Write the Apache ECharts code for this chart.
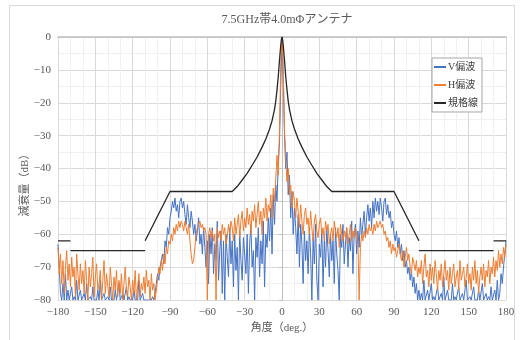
<!DOCTYPE html>
<html><head><meta charset="utf-8">
<script src="https://cdn.jsdelivr.net/npm/echarts@6/dist/echarts.min.js"></script>
<style>html,body{margin:0;padding:0;background:#fff}#c{width:524px;height:340px}</style>
</head><body><div id="c"></div>
<script>
const titleText = '7.5GHz帯4.0mΦアンテナ';
const xTicks = [-180,-150,-120,-90,-60,-30,0,30,60,90,120,150,180];
const startAngle = -180;
const vPol = [
-63,-70,-78,-80,-75,-80,-72,-80,-77,-80,
-80,-76,-80,-79,-80,-74,-80,-80,-77,-80,
-80,-78,-80,-75,-80,-80,-79,-80,-76,-80,
-80,-80,-77,-80,-74,-80,-80,-78,-80,-80,
-79,-80,-76,-80,-80,-80,-77,-80,-80,-75,
-80,-80,-78,-80,-80,-76,-80,-79,-80,-80,
-80,-77,-80,-80,-80,-74,-80,-80,-78,-80,
-80,-80,-80,-80,-80,-80,-79,-80,-78,-75,
-72,-74,-70,-68,-66,-69,-62,-64,-58,-60,
-55,-53,-50,-52,-49,-53,-51,-55,-50,-49,
-52,-50,-54,-57,-51,-55,-58,-53,-56,-60,
-57,-62,-59,-55,-63,-60,-66,-58,-64,-70,
-62,-75,-60,-66,-58,-72,-63,-68,-56,-74,
-65,-59,-78,-62,-80,-60,-67,-73,-58,-69,
-62,-76,-60,-71,-64,-80,-59,-68,-74,-61,
-66,-72,-60,-78,-63,-57,-70,-65,-80,-61,
-67,-58,-73,-62,-69,-56,-76,-60,-64,-55,
-62,-52,-66,-48,-57,-45,-50,-38,-32,-15,
0,
-12,-30,-40,-35,-48,-42,-55,-47,-60,-52,
-58,-66,-54,-70,-57,-63,-75,-59,-68,-62,
-72,-58,-66,-80,-61,-69,-57,-74,-80,-63,
-67,-59,-76,-62,-70,-58,-65,-73,-60,-68,
-62,-75,-58,-66,-71,-80,-60,-64,-57,-69,
-63,-58,-70,-61,-65,-56,-72,-60,-57,-66,
-59,-64,-55,-61,-57,-53,-60,-55,-51,-56,
-52,-58,-50,-55,-49,-53,-50,-54,-49,-52,
-56,-50,-49,-54,-51,-55,-53,-58,-56,-60,
-62,-59,-64,-61,-66,-63,-68,-65,-70,-68,
-72,-70,-74,-71,-76,-73,-78,-75,-80,-77,
-80,-78,-80,-74,-80,-80,-77,-80,-80,-75,
-80,-79,-80,-80,-76,-80,-80,-78,-80,-73,
-80,-80,-77,-80,-80,-80,-75,-80,-79,-80,
-80,-76,-80,-80,-78,-80,-80,-74,-80,-80,
-79,-80,-80,-76,-80,-80,-80,-77,-80,-80,
-75,-80,-80,-78,-80,-79,-80,-76,-80,-80,
-77,-80,-74,-80,-78,-72,-75,-70,-66,-62
];
const hPol = [
-64,-72,-66,-75,-68,-78,-70,-65,-74,-69,
-76,-67,-73,-70,-79,-66,-72,-77,-69,-75,
-71,-78,-68,-74,-80,-70,-76,-72,-67,-79,
-73,-69,-77,-75,-71,-80,-74,-68,-78,-72,
-76,-79,-70,-75,-80,-73,-77,-71,-79,-74,
-78,-72,-80,-75,-70,-77,-79,-73,-76,-80,
-74,-78,-71,-80,-76,-72,-79,-75,-77,-73,
-78,-71,-76,-74,-80,-72,-77,-75,-80,-80,
-74,-70,-72,-68,-71,-66,-69,-64,-66,-62,
-63,-60,-62,-58,-60,-57,-59,-56,-58,-56,
-57,-59,-56,-58,-60,-57,-62,-66,-69,-68,
-64,-60,-58,-57,-56,-58,-57,-59,-58,-60,
-80,-60,-58,-61,-59,-62,-60,-80,-58,-61,
-59,-62,-57,-60,-58,-63,-61,-57,-60,-56,
-58,-62,-55,-60,-57,-54,-61,-56,-53,-59,
-55,-58,-52,-57,-54,-60,-53,-56,-51,-58,
-54,-50,-57,-53,-60,-52,-55,-49,-56,-51,
-53,-48,-55,-46,-50,-43,-36,-42,-28,-8,
0,
-10,-28,-37,-44,-40,-48,-45,-52,-47,-50,
-55,-49,-53,-58,-51,-56,-60,-54,-52,-57,
-55,-60,-53,-58,-62,-56,-54,-59,-61,-57,
-55,-60,-58,-62,-56,-59,-57,-63,-60,-58,
-62,-56,-59,-61,-58,-64,-57,-60,-62,-59,
-61,-58,-63,-60,-57,-62,-59,-61,-58,-60,
-62,-80,-64,-60,-62,-59,-61,-58,-60,-57,
-59,-58,-60,-57,-59,-56,-58,-57,-56,-58,
-57,-60,-59,-62,-61,-64,-62,-66,-63,-65,
-64,-67,-65,-63,-66,-68,-65,-70,-67,-64,
-68,-66,-70,-72,-67,-69,-71,-68,-73,-70,
-72,-68,-75,-70,-66,-73,-71,-76,-69,-74,
-70,-75,-68,-72,-77,-71,-74,-69,-76,-72,
-68,-74,-71,-77,-70,-75,-72,-69,-76,-73,
-71,-77,-68,-74,-72,-70,-76,-73,-69,-75,
-72,-77,-70,-74,-68,-75,-71,-78,-73,-70,
-74,-69,-76,-71,-73,-68,-75,-70,-72,-67,
-73,-68,-71,-65,-70,-66,-69,-64,-67,-63
];
const specAngles = [-180,-170,-170, -170,-110,-110, -110,-90,-40,-36,-32,-28,-24,-20,-16,-13,-10,-8,-6,-5,-4,-3,-2,-1,-0.5,0,0.5,1,2,3,4,5,6,8,10,13,16,20,24,28,32,36,40,90,110,110, 110,170,170, 170,180];
const specValues = [-62,-62,null, -65,-65,null, -62,-47,-47,-45.5,-43.5,-41.5,-39,-36.5,-33.5,-31,-28,-25.5,-22,-19.5,-16,-12,-7,-2.5,-0.8,0,-0.8,-2.5,-7,-12,-16,-19.5,-22,-25.5,-28,-31,-33.5,-36.5,-39,-41.5,-43.5,-45.5,-47,-47,-62,null, -65,-65,null, -62,-62];

const toPairs = vals => vals.map((v,i)=>[startAngle+i, v]);
const specPairs = specAngles.map((a,i)=>[a, specValues[i]===null ? '-' : specValues[i]]);

const serif = "'Liberation Serif','DejaVu Serif','Noto Sans CJK JP',serif";
const chart = echarts.init(document.getElementById('c'), null, {renderer:'canvas'});
chart.setOption({
  animation:false,
  backgroundColor:'#fff',
  title:{text:titleText,left:282,textAlign:'center',top:9,textStyle:{fontFamily:serif,fontSize:12,fontWeight:'normal',color:'#595959'}},
  graphic:[{type:'rect',shape:{x:9.5,y:5.5,width:505,height:340},style:{fill:'none',stroke:'#D9D9D9',lineWidth:1},silent:true}],
  legend:{
    orient:'vertical',left:432,top:58,
    data:['V偏波','H偏波','規格線'],
    backgroundColor:'#fff',borderColor:'#A6A6A6',borderWidth:1,padding:[4,4,4,2],
    itemGap:8,itemWidth:12,itemHeight:2,icon:'rect',
    textStyle:{fontFamily:serif,fontSize:10,color:'#404040',padding:[0,0,0,-3]}
  },
  grid:{left:58,right:18,top:37,bottom:40,outerBoundsMode:'none',containLabel:false},
  xAxis:{
    type:'value',min:-180,max:180,interval:30,
    name:'角度（deg.）',nameLocation:'middle',nameGap:22,
    nameTextStyle:{fontFamily:serif,fontSize:11,color:'#595959'},
    axisLine:{show:true,lineStyle:{color:'#BFBFBF',width:1.5}},
    axisTick:{show:false},
    axisLabel:{fontFamily:serif,fontSize:11,color:'#595959',margin:7,formatter:v=>xTicks.includes(v)?String(v).replace('-','−'):''},
    splitLine:{show:true,lineStyle:{color:'#D9D9D9',width:1}},
    minorTick:{show:false,splitNumber:3},
    minorSplitLine:{show:true,lineStyle:{color:'#F0F0F0',width:1}}
  },
  yAxis:{
    type:'value',min:-80,max:0,interval:10,
    name:'減衰量（dB）',nameLocation:'middle',nameGap:27,nameMoveOverlap:false,
    nameTextStyle:{fontFamily:serif,fontSize:11,color:'#595959',padding:[0,28,0,0]},
    axisLine:{show:true,lineStyle:{color:'#BFBFBF',width:1}},
    axisTick:{show:true,length:3,lineStyle:{color:'#BFBFBF'}},
    axisLabel:{fontFamily:serif,fontSize:11,color:'#595959',margin:7,formatter:v=>String(v).replace('-','−')},
    splitLine:{show:true,lineStyle:{color:'#D9D9D9',width:1}},
    minorTick:{show:false,splitNumber:2},
    minorSplitLine:{show:true,lineStyle:{color:'#F0F0F0',width:1}}
  },
  series:[
    {name:'V偏波',type:'line',data:toPairs(vPol),showSymbol:false,symbol:'none',lineStyle:{color:'#4472C4',width:1},itemStyle:{color:'#4472C4'},z:2},
    {name:'H偏波',type:'line',data:toPairs(hPol),showSymbol:false,symbol:'none',lineStyle:{color:'#ED7D31',width:1},itemStyle:{color:'#ED7D31'},z:3},
    {name:'規格線',type:'line',data:specPairs,connectNulls:false,showSymbol:false,symbol:'none',lineStyle:{color:'#262626',width:1.3},itemStyle:{color:'#262626'},z:4}
  ]
});
</script></body></html>
